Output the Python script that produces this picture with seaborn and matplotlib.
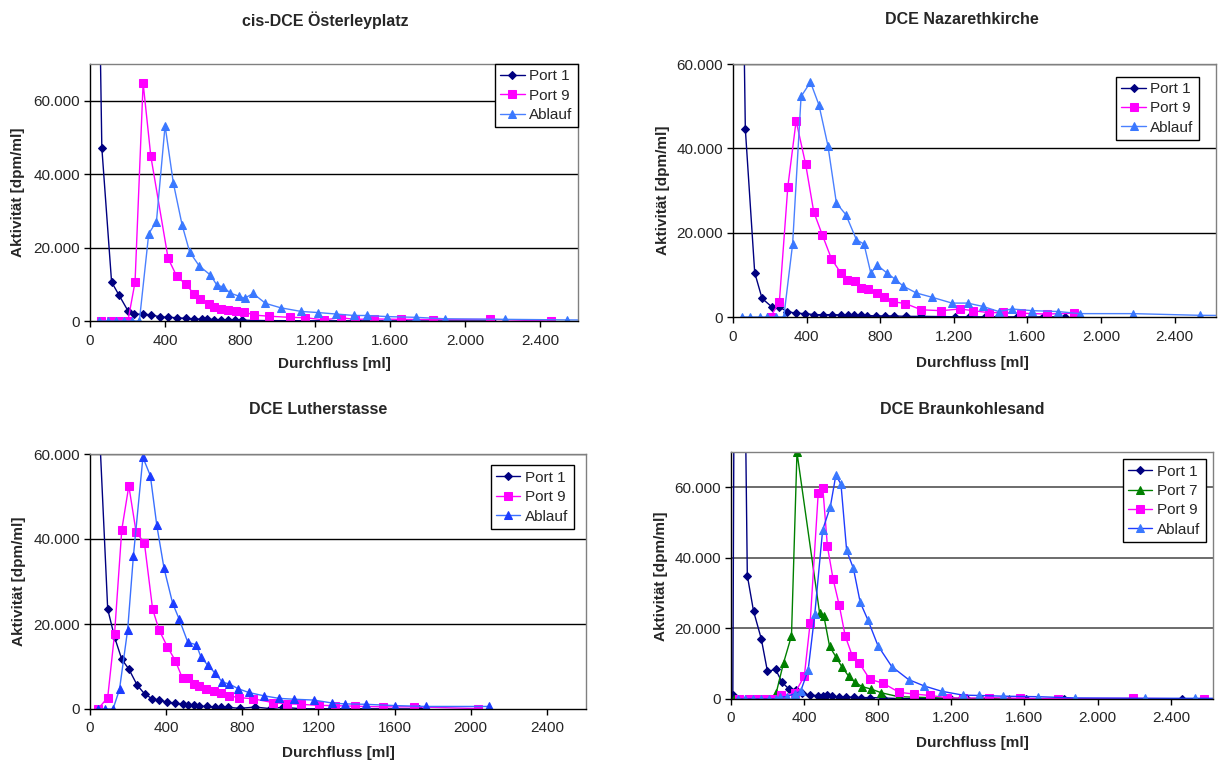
import seaborn as sns
import matplotlib.pyplot as plt
from matplotlib.ticker import FuncFormatter

sns.set_style("white")
plt.rcParams['font.family'] = ['Liberation Sans', 'DejaVu Sans']

# --- cis-DCE Österleyplatz ---
p1_port1_x = [35, 63, 115, 154, 202, 236, 281, 325, 374, 418, 461, 511, 556, 596, 622, 663, 697, 737, 772, 808,
              875, 956, 1065, 1145, 1330, 1420, 1520, 1670, 1830, 2140]
p1_port1_y = [140000, 47200, 10600, 7100, 2800, 1900, 1800, 1700, 1100, 1000, 900, 700, 550, 450, 450, 400, 350, 300, 300, 250,
              150, 100, 80, 60, 50, 40, 40, 30, 20, 10]
p1_port9_x = [61, 111, 152, 202, 240, 283, 324, 416, 462, 510, 556, 587, 632, 661, 697, 736, 780, 821, 875, 956,
              1063, 1147, 1246, 1335, 1410, 1515, 1656, 1828, 2131, 2454]
p1_port9_y = [0, 0, 0, 0, 10600, 64800, 44900, 17100, 12200, 10000, 7300, 6100, 4700, 3800, 3400, 3000, 2600, 2500, 1600, 1300,
              1000, 900, 300, 900, 450, 550, 450, 400, 450, 0]
p1_ablauf_x = [46, 95, 141, 182, 222, 263, 313, 354, 400, 444, 491, 531, 582, 642, 677, 711, 747, 792, 824, 869,
               935, 1016, 1125, 1215, 1310, 1407, 1475, 1583, 1736, 1892, 2212, 2540, 2900]
p1_ablauf_y = [0, 0, 0, 0, 0, 0, 23800, 27100, 53200, 37600, 26100, 18800, 15000, 12500, 9700, 9300, 7600, 6800, 6200, 7500,
               4800, 3600, 2600, 2300, 1900, 1500, 1500, 1200, 1000, 600, 450, 300, 200]

# --- DCE Nazarethkirche ---
p2_port1_x = [40, 67, 118, 158, 211, 250, 295, 341, 394, 442, 488, 537, 587, 625, 657, 693, 730, 779, 825, 874,
              941, 1021, 1135, 1204, 1284, 1372, 1442, 1541, 1684, 1804]
p2_port1_y = [128000, 44600, 10500, 4400, 2400, 2400, 1300, 900, 800, 550, 550, 550, 500, 450, 400, 400, 350, 250, 250, 250,
              150, 150, 100, 50, 50, 50, 30, 30, 20, 10]
p2_port9_x = [204, 252, 298, 343, 395, 439, 486, 535, 585, 618, 661, 697, 731, 780, 822, 871, 936, 1024, 1133, 1232,
              1307, 1393, 1466, 1565, 1704, 1852]
p2_port9_y = [0, 3600, 30900, 46500, 36200, 24900, 19400, 13800, 10500, 8700, 8600, 6900, 6600, 5600, 4700, 3600, 3200, 1700, 1500, 1900,
              1500, 1000, 1100, 900, 700, 900]
p2_ablauf_x = [48, 95, 147, 183, 232, 276, 324, 370, 421, 467, 516, 562, 613, 671, 712, 749, 783, 838, 880, 926,
               996, 1080, 1190, 1275, 1359, 1444, 1516, 1627, 1766, 1884, 2173, 2537, 2900]
p2_ablauf_y = [0, 0, 0, 0, 0, 0, 17300, 52300, 55700, 50300, 40600, 27000, 24300, 18300, 17300, 10400, 12300, 10400, 9000, 7300,
               5700, 4700, 3300, 3300, 2500, 1300, 1900, 1500, 1300, 800, 800, 400, 300]

# --- DCE Lutherstasse ---
p3_port1_x = [40, 93, 129, 167, 204, 248, 288, 327, 363, 403, 444, 490, 514, 545, 571, 615, 656, 686, 726, 787,
              867, 948, 1013, 1115, 1204, 1281, 1386, 1543, 1708, 1731]
p3_port1_y = [75000, 23500, 16900, 11700, 9400, 5600, 3500, 2400, 2100, 1650, 1300, 1100, 1000, 950, 650, 600, 500, 550, 400, 150,
              450, 100, 400, 50, 50, 50, 50, 30, 20, 10]
p3_port9_x = [42, 93, 129, 167, 204, 242, 286, 329, 363, 407, 448, 486, 514, 545, 575, 609, 651, 688, 728, 781,
              857, 962, 1035, 1107, 1204, 1285, 1392, 1539, 1704, 2037]
p3_port9_y = [0, 2700, 17700, 42200, 52500, 41700, 39000, 23500, 18600, 14600, 11400, 7200, 7400, 5800, 5300, 4800, 4200, 3800, 3100, 2700,
              2400, 1500, 1250, 1100, 850, 800, 650, 500, 500, 100]
p3_ablauf_x = [42, 81, 121, 155, 198, 228, 278, 317, 351, 389, 434, 468, 514, 559, 583, 619, 658, 696, 732, 777,
               833, 914, 994, 1073, 1176, 1273, 1341, 1452, 1604, 1765, 2098]
p3_ablauf_y = [0, 0, 0, 4600, 18700, 36000, 59200, 54900, 43200, 33100, 24900, 21200, 15700, 15100, 12200, 10300, 8400, 6300, 5900, 4800,
               3900, 3100, 2500, 2300, 2100, 1400, 1200, 1100, 800, 600, 600]

# --- DCE Braunkohlesand ---
p4_port1_x = [10, 32, 89, 123, 165, 199, 243, 279, 317, 355, 389, 433, 476, 501, 526, 550, 590, 628, 670, 708,
              761, 831, 920, 994, 1089, 1199, 1287, 1421, 1611, 1816, 2463]
p4_port1_y = [1000, 290000, 35000, 24900, 17100, 7800, 8400, 4700, 2800, 2600, 1600, 1100, 950, 750, 1050, 750, 570, 500, 500, 400,
              400, 300, 100, 100, 100, 100, 100, 0, 0, 0, 0]
p4_port7_x = [19, 60, 100, 140, 180, 220, 247, 287, 330, 360, 483, 507, 538, 573, 605, 643, 677, 716, 766, 818,
              913, 1084, 1251, 1368, 1516]
p4_port7_y = [0, 0, 0, 0, 0, 0, 1800, 10300, 17900, 69900, 24500, 23400, 14900, 11900, 9100, 6400, 4700, 3500, 2800, 1800,
              660, 380, 200, 100, 50]
p4_port9_x = [46, 99, 142, 184, 226, 275, 349, 400, 432, 476, 501, 526, 557, 591, 623, 662, 700, 757, 829, 917,
              999, 1085, 1178, 1268, 1406, 1579, 1786, 2192, 2579]
p4_port9_y = [0, 0, 0, 0, 0, 1000, 1700, 6500, 21600, 58400, 59800, 43300, 34000, 26500, 17900, 12200, 10200, 5600, 4500, 1900,
              1400, 1000, 400, 200, 400, 200, 100, 200, 0]
p4_ablauf_x = [36, 78, 120, 163, 205, 247, 268, 305, 347, 380, 421, 457, 500, 542, 572, 600, 631, 668, 705, 747,
               802, 877, 969, 1054, 1149, 1265, 1351, 1484, 1674, 1879, 2258, 2531, 2900]
p4_ablauf_y = [0, 0, 0, 0, 0, 0, 500, 700, 1500, 2200, 8200, 24000, 47900, 54500, 63400, 60900, 42100, 37000, 27400, 22400,
               15100, 9200, 5500, 3700, 2200, 1100, 1000, 800, 650, 300, 200, 200, 150]

titles = ["cis-DCE Österleyplatz", "DCE Nazarethkirche", "DCE Lutherstasse", "DCE Braunkohlesand"]
x_ticks = [0, 400, 800, 1200, 1600, 2000, 2400]
y_ticks = [0, 20000, 40000, 60000]

NAVY, GREEN, MAGENTA, BLUE = "#000080", "#008000", "#ff00ff", "#3a78ff"
W, H = 1218, 765
FS = 11


def dotted(v, pos):
    return f"{int(v):,}".replace(",", ".")


def plain(v, pos):
    return f"{int(v)}"


def make_axes(fig, left, top, right, bottom):
    return fig.add_axes([left / W, 1 - bottom / H, (right - left) / W, (bottom - top) / H])


def draw_series(ax, x, y, label, color, marker, ms, line_color=None):
    sns.lineplot(x=x, y=y, ax=ax, label=label, color=line_color or color, linewidth=1.0,
                 marker=marker, markersize=ms, markerfacecolor=color, markeredgecolor=color,
                 sort=False, estimator=None)


def style_axes(ax, ymax, xmax, xfmt, grid_color="black", grid_lw=1.0):
    ax.set_xlim(0, xmax)
    ax.set_ylim(0, ymax)
    ax.set_xticks(x_ticks)
    ax.set_yticks(y_ticks)
    ax.xaxis.set_major_formatter(FuncFormatter(xfmt))
    ax.yaxis.set_major_formatter(FuncFormatter(dotted))
    for yv in y_ticks[1:]:
        ax.axhline(yv, color=grid_color, lw=grid_lw, zorder=0.5)
    for s in ["top", "right"]:
        ax.spines[s].set_color("#808080")
        ax.spines[s].set_linewidth(1.0)
    for s in ["left", "bottom"]:
        ax.spines[s].set_color("black")
        ax.spines[s].set_linewidth(1.0)
    ax.tick_params(axis="both", direction="out", length=4, width=1, color="black",
                   labelsize=FS, pad=3, left=True, bottom=True)
    ax.tick_params(axis="x", pad=5)
    ax.set_xlabel("")
    ax.set_ylabel("")


def legend(ax, anchor):
    leg = ax.legend(loc="upper right", bbox_to_anchor=anchor, frameon=True, fancybox=False,
                    edgecolor="black", framealpha=1, fontsize=FS, handlelength=1.6,
                    handletextpad=0.3, labelspacing=0.35, borderpad=0.35, borderaxespad=0)
    leg.get_frame().set_linewidth(1.0)


fig = plt.figure(figsize=(W / 100, H / 100), dpi=100)

# panel 1
ax1 = make_axes(fig, 90, 64, 578, 321)
draw_series(ax1, p1_port1_x, p1_port1_y, "Port 1", NAVY, "D", 4.5)
draw_series(ax1, p1_port9_x, p1_port9_y, "Port 9", MAGENTA, "s", 6)
draw_series(ax1, p1_ablauf_x, p1_ablauf_y, "Ablauf", BLUE, "^", 6, "#4a80ff")
style_axes(ax1, 70000, 2600, dotted)
legend(ax1, (1.0, 1.0))

# panel 2
ax2 = make_axes(fig, 733, 64, 1216, 317)
draw_series(ax2, p2_port1_x, p2_port1_y, "Port 1", NAVY, "D", 4.5)
draw_series(ax2, p2_port9_x, p2_port9_y, "Port 9", MAGENTA, "s", 6)
draw_series(ax2, p2_ablauf_x, p2_ablauf_y, "Ablauf", BLUE, "^", 6, "#4a80ff")
style_axes(ax2, 60000, 2625, dotted)
legend(ax2, (0.965, 0.95))

# panel 3
ax3 = make_axes(fig, 90, 454, 586, 709)
draw_series(ax3, p3_port1_x, p3_port1_y, "Port 1", NAVY, "D", 4.5)
draw_series(ax3, p3_port9_x, p3_port9_y, "Port 9", MAGENTA, "s", 6)
draw_series(ax3, p3_ablauf_x, p3_ablauf_y, "Ablauf", "#1c3cff", "^", 6, "#3a70ff")
style_axes(ax3, 60000, 2606, plain)
legend(ax3, (0.975, 0.955))

# panel 4
ax4 = make_axes(fig, 731, 452, 1213, 699)
draw_series(ax4, p4_port1_x, p4_port1_y, "Port 1", NAVY, "D", 4.5)
draw_series(ax4, p4_port7_x, p4_port7_y, "Port 7", GREEN, "^", 6)
draw_series(ax4, p4_port9_x, p4_port9_y, "Port 9", MAGENTA, "s", 6)
draw_series(ax4, p4_ablauf_x, p4_ablauf_y, "Ablauf", BLUE, "^", 6, "#1f3cff")
style_axes(ax4, 70000, 2630, dotted, grid_color="#606060", grid_lw=1.3)
legend(ax4, (0.985, 0.97))

# titles and axis labels
title_pos = [(325, 20), (962, 20), (318, 410), (962, 410)]
xlabel_pos = [(334, 364), (972, 363), (338, 753), (972, 743)]
ylabel_pos = [(18, 192), (663, 190), (19, 581), (661, 576)]
for t, (tx, ty), (lx, ly), (yx, yy) in zip(titles, title_pos, xlabel_pos, ylabel_pos):
    fig.text(tx / W, 1 - ty / H, t, ha="center", va="center", fontsize=11.5, fontweight="bold")
    fig.text(lx / W, 1 - ly / H, "Durchfluss [ml]", ha="center", va="center", fontsize=FS, fontweight="bold")
    fig.text(yx / W, 1 - yy / H, "Aktivität [dpm/ml]", ha="center", va="center", rotation=90,
             fontsize=FS, fontweight="bold")

fig.savefig("out.png", dpi=100)
